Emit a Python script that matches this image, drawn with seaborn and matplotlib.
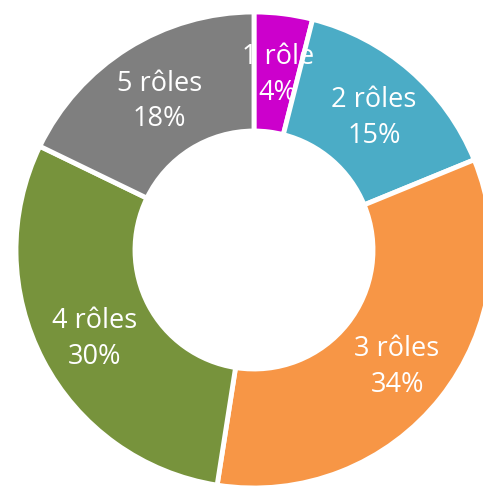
import matplotlib
matplotlib.use("Agg")
import numpy as np
import matplotlib.pyplot as plt
import seaborn as sns

sns.set_style("white")
plt.rcParams['font.family'] = ['Open Sans', 'DejaVu Sans']

roles = ['1 rôle', '2 rôles', '3 rôles', '4 rôles', '5 rôles']
shares = [4, 15, 34, 30, 18]
colors = ['#CC00CC', '#4BACC6', '#F79646', '#77933C', '#7F7F7F']

fig = plt.figure(figsize=(4.83, 4.88), dpi=100)
ax = fig.add_axes([0, 0, 1, 1])

wedges, _ = ax.pie(shares, colors=colors, startangle=90, counterclock=False,
                   radius=1, wedgeprops=dict(width=0.5, edgecolor='white', linewidth=3.5))

# labels in the middle of the ring
total = sum(shares)
cum = 0
for name, v in zip(roles, shares):
    mid = (cum + v / 2) / total * 2 * np.pi
    cum += v
    r = 0.76
    x, y = r * np.sin(mid), r * np.cos(mid)
    ax.text(x + 0.005, y - 0.02, f"{name}\n{v}%", ha='center', va='center',
            color='white', fontsize=19.5, linespacing=1.38, zorder=5)

# center at (254, 250) px, radius 238 px
cx, cy, R = 254, 250, 238
ax.set_xlim(-cx / R, (483 - cx) / R)
ax.set_ylim(-(488 - cy) / R, cy / R)
ax.set_aspect('auto')
ax.axis('off')

fig.savefig('out.png', dpi=100)
